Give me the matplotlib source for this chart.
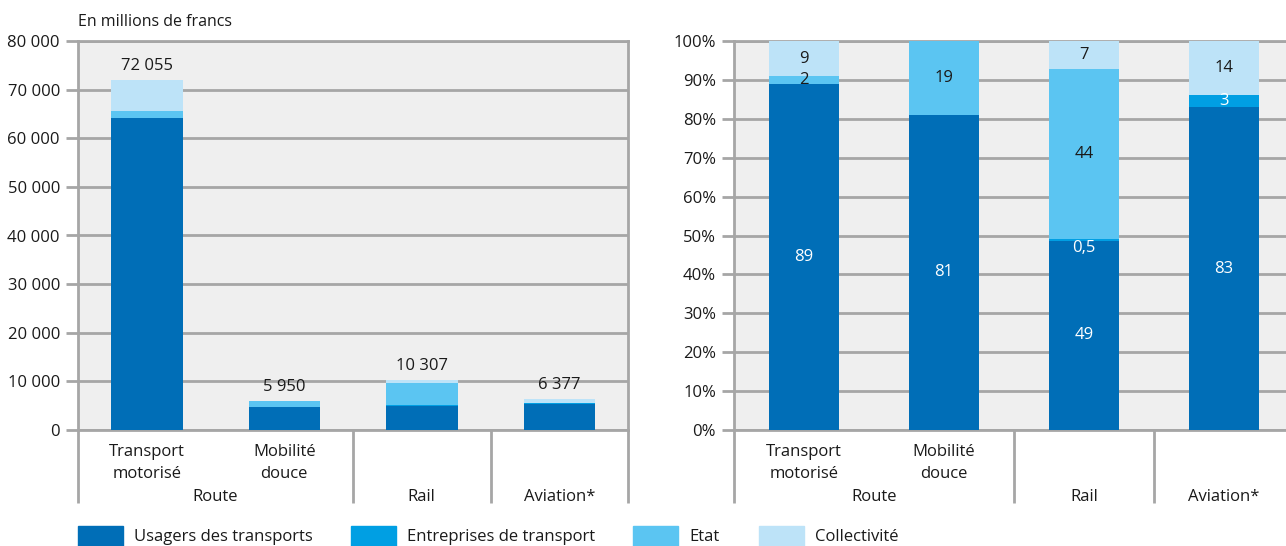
import numpy as np
import matplotlib
matplotlib.use("Agg")
import matplotlib.pyplot as plt
from matplotlib.patches import Rectangle

plt.rcParams['font.family'] = ['Open Sans', 'DejaVu Sans']

# données
sous_categories = ['Transport\nmotorisé', 'Mobilité\ndouce', '', '']
groupes = ['Route', 'Rail', 'Aviation*']
series = ['Usagers des transports', 'Entreprises de transport', 'Etat', 'Collectivité']
couleurs = ['#006EB7', '#009FE3', '#5BC5F2', '#BDE3F8']

# en millions de francs
usagers_abs = [64130, 4820, 5020, 5293]
entreprises_abs = [0, 0, 52, 191]
etat_abs = [1441, 1130, 4505, 0]
collectivite_abs = [6484, 0, 730, 893]
totaux = [72055, 5950, 10307, 6377]

# en %
usagers_pct = [89, 81, 48.7, 83]
entreprises_pct = [0, 0, 0.5, 3]
etat_pct = [2, 19, 43.7, 0]
collectivite_pct = [9, 0, 7.1, 14]

yticks_abs = [0, 10000, 20000, 30000, 40000, 50000, 60000, 70000, 80000]
yticks_pct = [0, 10, 20, 30, 40, 50, 60, 70, 80, 90, 100]

W, H = 1286, 546
fig = plt.figure(figsize=(W / 100, H / 100), dpi=100)

grille = '#A6A6A6'
texte = '#1A1A1A'
fs = 12

def fmt_milliers(v):
    return f"{int(v):,}".replace(',', ' ')

def fmt_pct(v):
    if v < 1:
        return f"{v}".replace('.', ',')
    return f"{int(round(v))}"

def habillage(ax, yticks, ylabels, ymax):
    ax.set_facecolor('#EFEFEF')
    ax.set_xlim(-0.5, 3.5)
    ax.set_ylim(0, ymax)
    ax.set_yticks(yticks)
    ax.set_yticklabels(ylabels, fontsize=fs, color=texte)
    ax.set_xticks([])
    ax.grid(axis='y', color=grille, linewidth=2)
    ax.set_axisbelow(True)
    ax.tick_params(axis='y', length=9, width=2, color=grille, pad=4)
    for s in ax.spines.values():
        s.set_color(grille)
        s.set_linewidth(2)
    # séparateurs de groupes
    tr = ax.get_xaxis_transform()
    for xs in [-0.5, 1.5, 2.5, 3.5]:
        ax.plot([xs, xs], [0, -0.188], transform=tr, color=grille, lw=2,
                clip_on=False, solid_capstyle='butt')
    for i, lab in enumerate(sous_categories):
        if lab:
            ax.text(i, -0.085, lab, transform=tr, ha='center', va='center',
                    fontsize=fs, color=texte, linespacing=1.45)
    for xg, g in zip([0.5, 2, 3], groupes):
        ax.text(xg, -0.172, g, transform=tr, ha='center', va='center',
                fontsize=fs, color=texte)

def empiler(ax, valeurs, largeur):
    x = np.arange(4)
    bas = np.zeros(4)
    for vals, c in zip(valeurs, couleurs):
        vals = np.array(vals, dtype=float)
        ax.bar(x, vals, largeur, bottom=bas, color=c, zorder=3)
        bas = bas + vals
    return bas

# --- gauche : montants
ax1 = fig.add_axes([78 / W, (H - 430) / H, 550 / W, 389 / H])
habillage(ax1, yticks_abs, [fmt_milliers(v) for v in yticks_abs], 80000)
empiler(ax1, [usagers_abs, entreprises_abs, etat_abs, collectivite_abs], 0.52)
for i, t in enumerate(totaux):
    ax1.text(i, t + 1200, fmt_milliers(t), ha='center', va='bottom',
             fontsize=fs, color=texte)
fig.text(78 / W, 1 - 22 / H, 'En millions de francs', ha='left', va='center',
         fontsize=fs - 0.5, color=texte)

# --- droite : parts en %
ax2 = fig.add_axes([734 / W, (H - 430) / H, 560 / W, 389 / H])
habillage(ax2, yticks_pct, [f"{v}%" for v in yticks_pct], 100)
valeurs_pct = [usagers_pct, entreprises_pct, etat_pct, collectivite_pct]
empiler(ax2, valeurs_pct, 0.5)
bas = np.zeros(4)
for k, vals in enumerate(valeurs_pct):
    for i, v in enumerate(vals):
        if v <= 0:
            continue
        yc = bas[i] + v / 2
        coul = 'white' if k < 2 else texte
        if v < 1:
            yc = bas[i] - 2
        ax2.text(i, yc, fmt_pct(v), ha='center', va='center', fontsize=fs,
                 color=coul, zorder=4)
    bas = bas + np.array(vals, dtype=float)

# --- légende
legende_x = [78, 351, 633, 759]
for xl, nom, c in zip(legende_x, series, couleurs):
    fig.patches.append(Rectangle((xl / W, 0), 45 / W, 20 / H, color=c,
                                 transform=fig.transFigure, figure=fig))
    fig.text((xl + 56) / W, 1 - 537 / H, nom, ha='left', va='center',
             fontsize=fs, color=texte)

fig.savefig('out.png', dpi=100)
